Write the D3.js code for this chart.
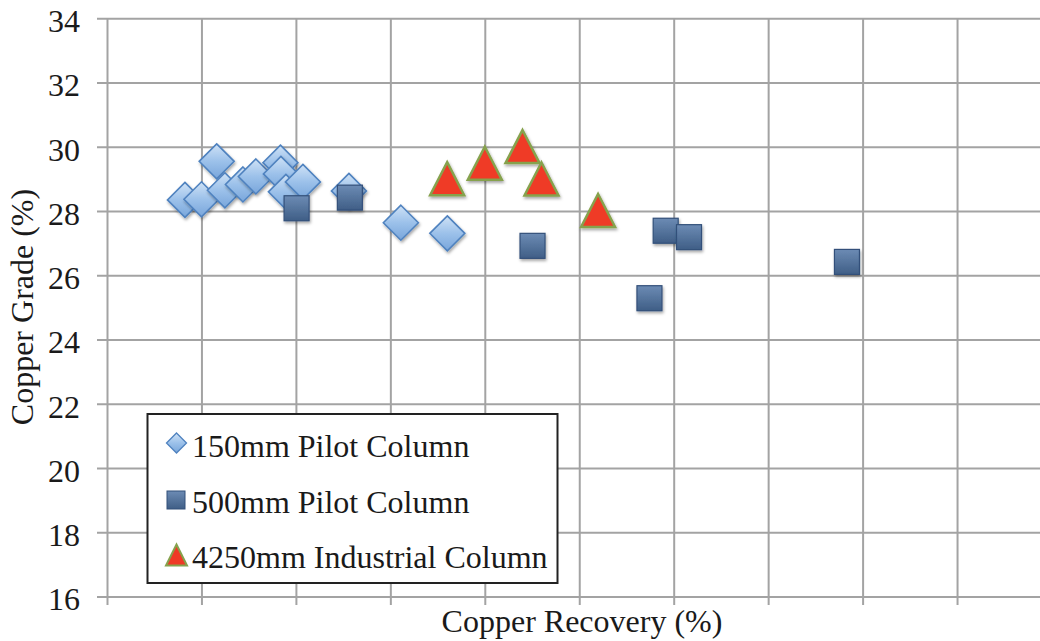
<!DOCTYPE html>
<html><head><meta charset="utf-8">
<script src="https://cdn.jsdelivr.net/npm/d3@7"></script>
<style>body{margin:0;background:#fff}svg{display:block}text{font-family:"Liberation Serif","Times New Roman",serif;fill:#1a1a1a}</style>
</head><body>
<svg id="c" width="1040" height="641"></svg>
<script>
// ---- data ----
const seriesNames = ["150mm Pilot Column","500mm Pilot Column","4250mm Industrial Column"];
const pilot150X = [0.82,0.995,1.156,1.243,1.434,1.571,1.831,1.836,1.889,2.069,2.556,3.106,3.598];
const pilot150Y = [28.36,28.38,29.56,28.66,28.84,29.09,29.52,29.17,28.61,28.92,28.64,27.65,27.32];
const pilot500X = [2.002,2.566,4.50,5.910,6.157,5.738,7.829];
const pilot500Y = [28.10,28.43,26.93,27.40,27.20,25.30,26.43];
const industrialX = [3.596,3.995,4.394,4.595,5.194];
const industrialY = [29.02,29.50,30.02,29.01,28.03];
const yTicks = [16,18,20,22,24,26,28,30,32,34];
const xTicks = [0,1,2,3,4,5,6,7,8,9,10];
const xTitle = "Copper Recovery (%)";
const yTitle = "Copper Grade (%)";

const svg = d3.select("#c");
const x = d3.scaleLinear().domain([0,10]).range([107.5,1052]);
const y = d3.scaleLinear().domain([16,34]).range([597,18.7]);
const gridCol = "#a3a3a3";

const defs = svg.append("defs");
const g1 = defs.append("linearGradient").attr("id","gDia").attr("x1",0).attr("y1",0).attr("x2",0).attr("y2",1);
g1.append("stop").attr("offset","0%").attr("stop-color","#cfe2f6");
g1.append("stop").attr("offset","50%").attr("stop-color","#9cc1ea");
g1.append("stop").attr("offset","100%").attr("stop-color","#79a6db");
const g2 = defs.append("linearGradient").attr("id","gSq").attr("x1",0).attr("y1",0).attr("x2",0).attr("y2",1);
g2.append("stop").attr("offset","0%").attr("stop-color","#6c8bb4");
g2.append("stop").attr("offset","100%").attr("stop-color","#3f5e86");
const f = defs.append("filter").attr("id","sh").attr("x","-30%").attr("y","-30%").attr("width","160%").attr("height","160%");
f.append("feDropShadow").attr("dx",1).attr("dy",2).attr("stdDeviation",1.5).attr("flood-color","#000").attr("flood-opacity",0.35);

// grid
svg.append("g").selectAll("line").data(yTicks).join("line")
  .attr("x1",97).attr("x2",1040).attr("y1",d=>y(d)).attr("y2",d=>y(d))
  .attr("stroke",gridCol).attr("stroke-width",2);
svg.append("g").selectAll("line").data(xTicks).join("line")
  .attr("x1",d=>x(d)).attr("x2",d=>x(d)).attr("y1",y(34)).attr("y2",605)
  .attr("stroke",gridCol).attr("stroke-width",2);

// y axis labels
svg.append("g").selectAll("text").data(yTicks).join("text")
  .attr("x",80).attr("y",d=>y(d)).attr("dy","0.42em").attr("text-anchor","end")
  .attr("font-size",32).text(d=>d);

// axis titles
svg.append("text").attr("x",582).attr("y",632).attr("text-anchor","middle").attr("font-size",32).text(xTitle);
svg.append("text").attr("transform","translate(33,307) rotate(-90)").attr("text-anchor","middle").attr("font-size",32).text(yTitle);

// markers
const diamond = (cx,cy,r)=>`M${cx},${cy-r}L${cx+r},${cy}L${cx},${cy+r}L${cx-r},${cy}Z`;
const tri = (cx,cy,w,h)=>`M${cx},${cy-h/2}L${cx+w/2},${cy+h/2}L${cx-w/2},${cy+h/2}Z`;

const d150 = pilot150X.map((v,i)=>({x:v,y:pilot150Y[i]}));
const d500 = pilot500X.map((v,i)=>({x:v,y:pilot500Y[i]}));
const d4250 = industrialX.map((v,i)=>({x:v,y:industrialY[i]}));

svg.append("g").selectAll("path").data(d150).join("path")
  .attr("d",d=>diamond(x(d.x),y(d.y),17.5))
  .attr("fill","url(#gDia)").attr("stroke","#4f82bf").attr("stroke-width",1.6).attr("filter","url(#sh)");
svg.append("g").selectAll("rect").data(d500).join("rect")
  .attr("x",d=>x(d.x)-12.5).attr("y",d=>y(d.y)-12.5).attr("width",25).attr("height",25)
  .attr("fill","url(#gSq)").attr("stroke","#33507a").attr("stroke-width",1.2).attr("filter","url(#sh)");
svg.append("g").selectAll("path").data(d4250).join("path")
  .attr("d",d=>tri(x(d.x),y(d.y),34,33))
  .attr("fill","#ef3a26").attr("stroke","#86a24d").attr("stroke-width",2.5).attr("stroke-linejoin","miter").attr("filter","url(#sh)");

// legend
const lg = svg.append("g");
lg.append("rect").attr("x",147.5).attr("y",414).attr("width",410).attr("height",169)
  .attr("fill","#fff").attr("stroke","#222").attr("stroke-width",2);
const rows = [456.7,513.3,568.3];
lg.append("path").attr("d",diamond(176.5,443,10)).attr("fill","url(#gDia)").attr("stroke","#4f82bf").attr("stroke-width",1.3);
lg.append("rect").attr("x",167).attr("y",491).attr("width",18).attr("height",18).attr("fill","url(#gSq)").attr("stroke","#33507a").attr("stroke-width",1);
lg.append("path").attr("d",tri(176.5,555,21,21)).attr("fill","#ef3a26").attr("stroke","#86a24d").attr("stroke-width",2);
lg.selectAll("text.l").data(seriesNames).join("text").attr("class","l")
  .attr("x",192).attr("y",(d,i)=>rows[i]).attr("font-size",32).text(d=>d);
</script>
</body></html>
